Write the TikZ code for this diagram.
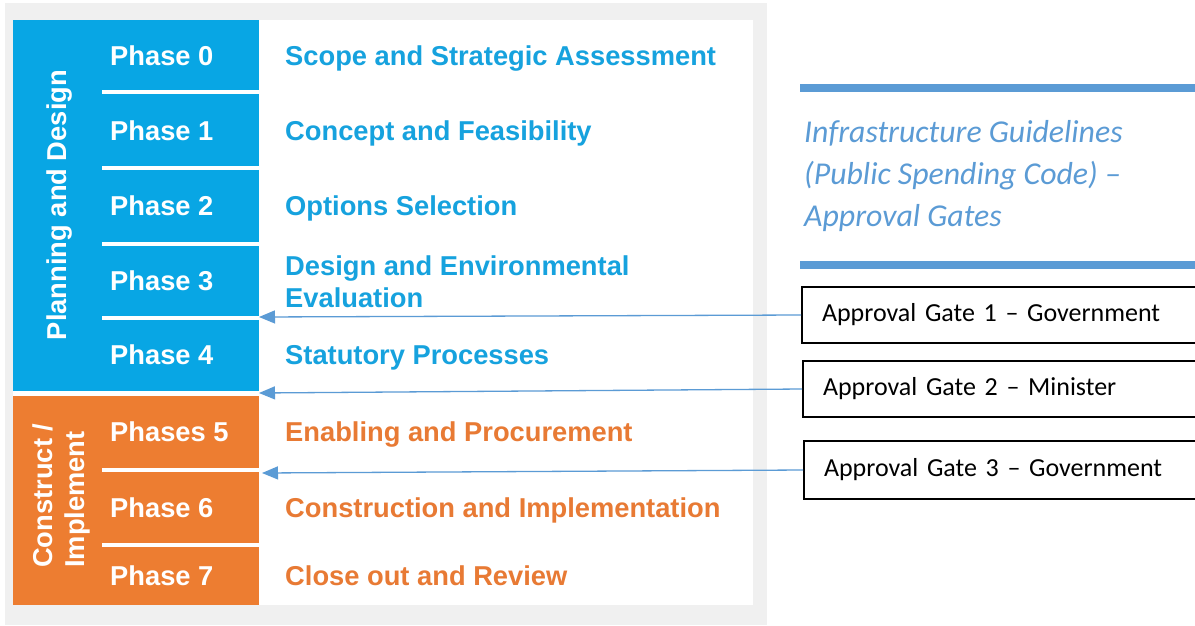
\documentclass[tikz,border=0pt]{standalone}
\usepackage{fontspec}
\setmainfont{Liberation Sans}
\newfontfamily\calfont{Carlito}
\usetikzlibrary{arrows.meta}
\definecolor{pdblue}{RGB}{8,166,228}
\definecolor{pdorange}{RGB}{237,125,49}
\definecolor{txtblue}{RGB}{22,162,222}
\definecolor{txtorange}{RGB}{232,122,52}
\definecolor{accent}{RGB}{91,155,213}
\definecolor{bggray}{RGB}{240,240,240}
\begin{document}
\begin{tikzpicture}[x=1pt,y=-1pt,
  phase/.style={anchor=base west, inner sep=0, text=white, font=\fontsize{27.3}{30}\selectfont\bfseries},
  bluetxt/.style={anchor=base west, inner sep=0, text=txtblue, font=\fontsize{27.3}{30}\selectfont\bfseries},
  orangetxt/.style={anchor=base west, inner sep=0, text=txtorange, font=\fontsize{27.3}{30}\selectfont\bfseries},
  sidelabel/.style={anchor=base, inner sep=0, text=white, rotate=90, font=\fontsize{27.3}{30}\selectfont\bfseries},
  sidelabelw/.style={anchor=base west, inner sep=0, text=white, rotate=90, font=\fontsize{27.3}{30}\selectfont\bfseries},
  sepline/.style={draw=white, line width=4pt},
  titletxt/.style={anchor=base west, inner sep=0, text=accent, font=\calfont\itshape\fontsize{31.8}{36}\selectfont},
  gatebox/.style={draw=black, line width=2pt, anchor=north west, inner xsep=20pt, inner ysep=0pt, text width=370pt, align=left, font=\calfont\fontsize{26}{30}\selectfont},
  gatearrow/.style={draw=accent, line width=1.3pt, -{Triangle[length=16pt,width=13pt]}}
]
\useasboundingbox (0,0) rectangle (1195,625);
% background frame
\fill[white] (0,0) rectangle (1195,625);
\fill[bggray] (5,3) rectangle (767,625);
\fill[white] (13,20) rectangle (753,605);
% coloured columns
\fill[pdblue] (13,20) rectangle (259,391);
\fill[pdorange] (13,396) rectangle (259,605);
% separators
\foreach \yy in {92,168,244,318,470,545}
  \draw[sepline] (102,\yy) -- (260,\yy);
% side labels
\node[sidelabel] (pd) at (66,205) {Planning and Design};
\node[sidelabelw] (ci1) at (52,568) {Construct /};
\node[sidelabelw] (ci2) at (84,568) {Implement};
% phases
\node[phase] (p0) at (110,65) {Phase 0};
\node[phase] (p1) at (110,140) {Phase 1};
\node[phase] (p2) at (110,215) {Phase 2};
\node[phase] (p3) at (110,290) {Phase 3};
\node[phase] (p4) at (110,364) {Phase 4};
\node[phase] (p5) at (110,441) {Phases 5};
\node[phase] (p6) at (110,517) {Phase 6};
\node[phase] (p7) at (110,585) {Phase 7};
% descriptions
\node[bluetxt] (d0) at (285,65) {Scope and Strategic Assessment};
\node[bluetxt] (d1) at (285,140) {Concept and Feasibility};
\node[bluetxt] (d2) at (285,215) {Options Selection};
\node[bluetxt] (d3a) at (285,275) {Design and Environmental};
\node[bluetxt] (d3b) at (285,307) {Evaluation};
\node[bluetxt] (d4) at (285,364) {Statutory Processes};
\node[orangetxt] (d5) at (285,441) {Enabling and Procurement};
\node[orangetxt] (d6) at (285,517) {Construction and Implementation};
\node[orangetxt] (d7) at (285,585) {Close out and Review};
% title
\fill[accent] (800,83.5) rectangle (1195,91.5);
\fill[accent] (800,261) rectangle (1195,269);
\node[titletxt] (t1) at (804,142) {Infrastructure Guidelines};
\node[titletxt] (t2) at (804,184) {(Public Spending Code) –};
\node[titletxt] (t3) at (804,226) {Approval Gates};
% gates
\node[gatebox, minimum height=56pt] (g1) at (801,286) {Approval Gate 1 – Government};
\node[gatebox, minimum height=56pt] (g2) at (802,360) {Approval Gate 2 – Minister};
\node[gatebox, minimum height=58pt] (g3) at (803,440) {Approval Gate 3 – Government};
\coordinate (a1) at (259,317);
\coordinate (a2) at (259,393);
\coordinate (a3) at (262,473);
\draw[gatearrow] (g1.west) -- (a1);
\draw[gatearrow] (g2.west) -- (a2);
\draw[gatearrow] (g3.west) -- (a3);
\end{tikzpicture}
\end{document}
